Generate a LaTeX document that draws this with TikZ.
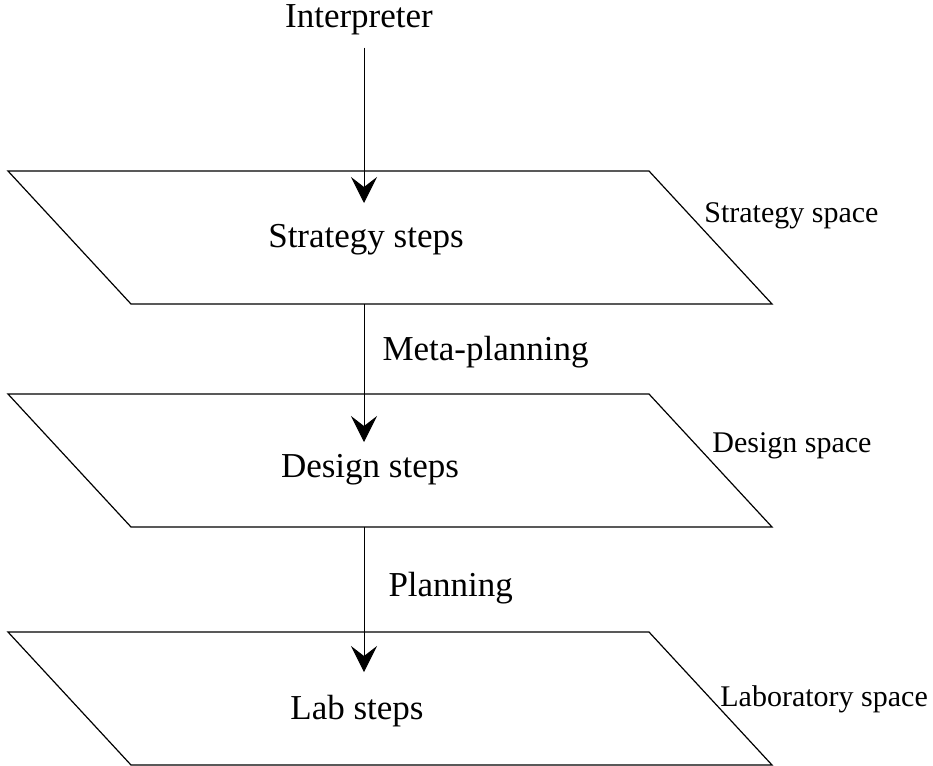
\documentclass[tikz,border=0pt]{standalone}
\usepackage{fontspec}
\setmainfont{Liberation Serif}
\usetikzlibrary{arrows.meta}
% one plane: top edge at y=#1, coordinate #2 at the middle of its bottom edge
\newcommand{\plane}[2]{\draw[line width=0.6pt] (8,#1) -- (649,#1) -- (772,#1+133) -- (131,#1+133) -- cycle;
  \coordinate (#2) at (364,#1+133);}

\begin{document}
\begin{tikzpicture}[x=0.5pt, y=-0.5pt, font=\fontsize{17.5}{20}\selectfont, inner sep=0pt,
  >={Stealth[length=13pt,width=13pt,inset=5pt]},
  space/.style={anchor=west, font=\fontsize{15}{18}\selectfont}]
  \useasboundingbox (0,0) rectangle (933,766);
  % planes
  \plane{171}{b1}
  \plane{394}{b2}
  \plane{632}{b3}
  % steps
  \node (interp) at (359,20) {Interpreter};
  \node (strat) at (366,240) {Strategy steps};
  \node (design) at (370,470) {Design steps};
  \node (lab) at (357,711) {Lab steps};
  % spaces
  \node[space] (sspace) at (704,216) {Strategy space};
  \node[space] (dspace) at (712,446) {Design space};
  \node[space] (lspace) at (720,699) {Laboratory space};
  % arrows
  \coordinate (t1) at (364,203);
  \coordinate (t2) at (364,442);
  \coordinate (t3) at (364,672);
  \draw[line width=0.5pt, ->, shorten <=6pt] (interp.south -| t1) -- (t1);
  \draw[line width=0.5pt, ->] (b1) -- (t2) node[pos=0.35, right=9pt, anchor=west] (meta) {Meta-planning};
  \draw[line width=0.5pt, ->] (b2) -- (t3) node[pos=0.42, right=12pt, anchor=west] (plan) {Planning};
\end{tikzpicture}
\end{document}
